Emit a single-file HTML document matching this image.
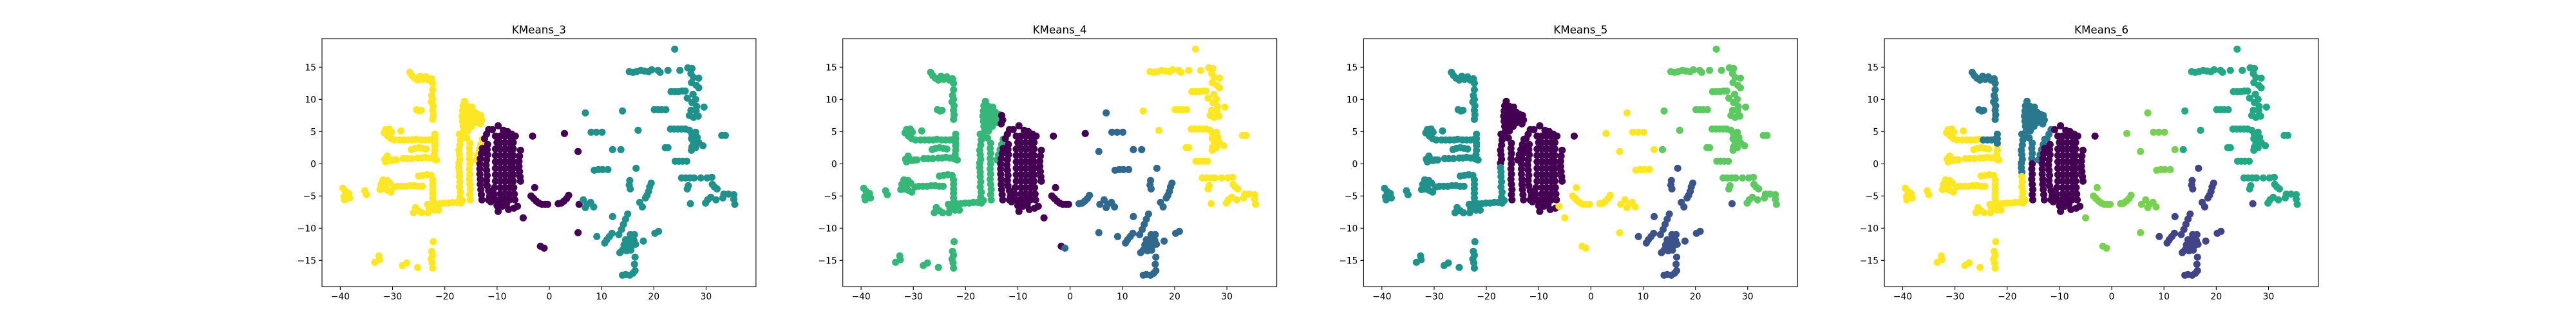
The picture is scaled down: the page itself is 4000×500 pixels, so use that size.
<!DOCTYPE html>
<html><head><meta charset="utf-8"><style>
html,body{margin:0;padding:0;background:#fff;}
svg{display:block;font-family:"DejaVu Sans","Liberation Sans",sans-serif;}
</style></head>
<body>
<svg id="fig" width="4000" height="500" viewBox="0 0 4000 500" xmlns="http://www.w3.org/2000/svg">
<rect width="4000" height="500" fill="#fff"/>
</svg>
<script>
// ---- data ----
const groupPoints = [
 [[-26.7,14.2],[-26.3,13.7],[-25.8,13.3],[-25.2,13.0],[-24.7,13.6],[-24.2,13.1],[-23.6,13.5],[-23.1,13.0],[-22.5,13.2],[-22.3,12.5],[-22.3,11.5],[-22.5,10.6],[-22.3,10.0],[-22.6,9.6],[-22.2,9.0],[-22.3,8.3],[-22.2,7.6],[-22.3,6.9],[-25.4,8.4],[-24.9,8.2],[-24.5,8.3]],
 [[-31.3,5.3],[-30.6,5.4],[-31.6,4.8],[-30.2,4.9],[-30.9,4.3],[-30.3,3.9],[-29.6,3.7],[-28.4,5.1],[-28.6,3.7],[-27.8,3.7],[-27.0,3.7],[-26.2,3.7],[-25.5,3.8],[-26.4,2.2],[-25.7,2.4],[-25.0,2.5],[-24.3,2.4],[-23.6,2.3],[-21.9,2.8],[-21.9,2.1],[-22.0,1.4],[-21.9,0.7],[-31.3,0.3],[-30.8,0.8],[-30.3,0.5],[-31.0,1.2],[-29.8,0.6],[-29.3,0.6],[-28.0,0.8],[-27.2,0.8],[-26.3,0.8],[-25.2,0.9],[-24.5,0.9],[-23.8,1.0],[-23.0,0.9],[-22.2,0.8],[-21.6,0.6],[-31.5,0.7]],
 [[-24.6,3.7],[-23.8,3.7],[-23.0,3.7],[-22.3,3.8],[-21.9,4.6],[-21.9,3.9],[-21.9,3.2]],
 [[-31.8,-2.5],[-31.0,-2.6],[-32.2,-3.2],[-31.4,-3.4],[-30.5,-3.0],[-31.8,-3.9],[-31.0,-4.1],[-30.3,-4.4],[-32.4,-4.0],[-29.7,-3.6],[-29.0,-3.5],[-28.2,-3.5],[-27.4,-3.5],[-26.6,-3.4],[-25.8,-3.4],[-25.0,-3.5],[-24.3,-3.5],[-25.0,-1.9],[-24.2,-1.8],[-23.4,-1.7],[-22.6,-1.8],[-22.3,-2.5],[-22.3,-3.2],[-22.3,-3.9],[-22.3,-4.6],[-22.3,-5.3],[-22.3,-6.0],[-23.3,-6.3],[-22.5,-6.4],[-21.7,-6.2],[-20.9,-6.2],[-20.1,-6.1],[-19.3,-6.1],[-18.5,-6.0],[-17.7,-6.0],[-17.0,-6.1],[-16.6,-5.7],[-26.0,-7.6],[-25.6,-6.8],[-25.0,-7.3],[-24.4,-7.6],[-23.2,-7.6],[-23.0,-6.9],[-22.0,-7.2],[-21.2,-7.2],[-39.5,-3.8],[-39.0,-4.3],[-38.4,-4.6],[-39.3,-5.1],[-38.2,-5.3],[-39.2,-5.6],[-38.6,-5.2],[-35.3,-4.2],[-35.0,-4.8],[-22.2,-12.1],[-22.5,-13.6],[-22.3,-14.2],[-22.6,-14.8],[-22.4,-15.4],[-22.3,-16.2],[-32.6,-14.3],[-32.5,-14.9],[-33.4,-15.3],[-28.1,-15.8],[-27.3,-15.4],[-25.2,-16.1]],
 [[-17.2,4.6],[-17.0,3.7],[-17.1,2.9],[-17.3,2.1],[-17.2,1.4],[-17.1,0.7],[-17.3,0.1]],
 [[-17.3,-0.6],[-17.2,-1.3]],
 [[-17.2,-2.0],[-17.1,-2.8],[-17.2,-3.6],[-17.0,-4.4],[-17.1,-5.2],[-16.9,-5.9]],
 [[-16.2,9.7],[-16.5,9.0],[-15.6,8.9],[-14.8,8.8],[-16.6,8.2],[-15.8,8.1],[-15.0,8.1],[-14.3,8.0],[-13.7,7.7],[-16.7,7.4],[-16.0,7.3],[-15.2,7.3],[-14.4,7.3],[-13.6,7.0],[-16.6,6.6],[-15.8,6.5],[-15.0,6.5],[-14.2,6.4],[-16.5,5.8],[-15.7,5.7],[-14.9,5.8],[-16.4,5.0],[-15.6,5.1],[-16.6,4.3],[-15.8,4.0]],
 [[-13.1,7.5],[-12.9,6.8],[-13.2,6.2]],
 [[-15.2,3.2],[-15.3,2.4],[-15.2,1.6],[-15.3,0.8],[-12.8,3.8],[-13.1,3.0],[-13.4,2.2],[-13.7,1.4],[-14.0,0.6]],
 [[-15.2,0.0],[-15.3,-0.8],[-15.2,-1.6],[-15.3,-2.4],[-15.2,-3.2],[-15.1,-4.0],[-15.2,-4.8],[-15.1,-5.6]],
 [[-11.6,5.3],[-12.0,4.6],[-12.4,3.9]],
 [[-12.8,2.4],[-13.0,1.6],[-13.2,0.8],[-13.3,0.0],[-13.3,-0.8],[-13.3,-1.6],[-13.2,-2.4],[-13.2,-3.2],[-13.1,-4.0],[-13.0,-4.8],[-12.9,-5.6],
  [-11.8,3.0],[-11.9,2.2],[-11.8,1.4],[-12.0,0.6],[-12.1,-0.2],[-12.0,-1.0],[-11.9,-1.8],[-12.0,-2.6],[-11.9,-3.4],[-11.6,-4.2],[-11.4,-5.0],[-11.6,-5.6],
  [-10.3,4.3],[-9.4,4.3],[-8.5,4.3],[-7.6,4.3],[-6.9,4.3],
  [-10.0,3.3],[-9.4,3.3],[-8.5,3.3],[-7.6,3.3],[-6.9,3.3],
  [-10.3,2.3],[-9.4,2.3],[-8.5,2.3],[-7.6,2.3],[-6.9,2.3],
  [-10.3,1.3],[-9.4,1.3],[-8.5,1.3],[-7.6,1.3],[-6.9,1.3],
  [-10.3,0.3],[-9.4,0.3],[-8.5,0.3],[-7.6,0.3],[-6.9,0.3],
  [-10.3,-0.7],[-9.4,-0.7],[-8.5,-0.7],[-7.6,-0.7],[-6.9,-0.7],
  [-10.3,-1.7],[-9.4,-1.7],[-8.5,-1.7],[-7.6,-1.7],[-6.9,-1.7],
  [-10.3,-2.7],[-9.4,-2.7],[-8.5,-2.7],[-7.6,-2.7],[-6.9,-2.7],
  [-10.5,-3.7],[-9.4,-3.7],[-8.5,-3.7],[-7.6,-3.7],[-6.8,-3.7],
  [-10.6,-4.7],[-9.4,-4.7],[-8.5,-4.7],[-7.6,-4.7],[-6.7,-4.7],
  [-10.3,-5.6],[-9.4,-5.6],[-8.5,-5.6],[-7.6,-5.6],[-6.6,-5.6],
  [-10.9,5.3],[-9.8,5.9],[-8.8,5.2],[-8.0,5.0],[-7.2,4.6],[-6.5,4.3],[-10.0,-6.5],[-9.8,-7.4],[-9.0,-6.6],[-8.2,-6.3],[-7.8,-7.1],[-6.8,-6.9],[-11.2,-5.9],
  [-5.5,2.1],[-5.7,1.2],[-5.8,0.4],[-5.8,-0.4],[-5.7,-1.2],[-5.6,-2.0],[-5.5,-2.7],[-3.2,4.3]],
 [[-6.1,-6.6]],
 [[-5.0,-8.4],[-2.8,-3.7],[-3.5,-5.0],[-3.0,-5.4],[-2.5,-5.8],[-2.0,-6.1],[-1.4,-6.3],[-0.8,-6.3],[-0.3,-6.3],[2.9,4.7],[-1.7,-12.8]],
 [[1.7,-6.2],[2.3,-6.1],[2.8,-5.8],[3.3,-5.4],[3.7,-4.9],[5.5,1.9],[5.5,-10.7],[5.7,-6.3],[-1.0,-13.1]],
 [[6.9,7.9],[8.0,4.9],[9.0,4.9],[10.1,4.9],[12.1,2.2],[8.6,-1.0],[9.4,-0.9],[10.2,-0.9],[11.2,-0.9],[6.5,-5.6],[7.2,-6.3],[7.9,-6.0],[6.9,-6.8],[8.5,-6.7]],
 [[13.7,2.2]],
 [[14.0,8.2],[17.0,5.2],[24.0,17.8],[15.3,14.3],[16.0,14.2],[16.7,14.3],[17.5,14.5],[18.2,14.4],[19.0,14.3],[19.6,14.6],[20.8,14.5],[21.2,14.2],[22.7,14.5],[25.0,14.5],[26.5,14.9],[27.3,14.8],[27.1,14.0],[27.6,13.4],[28.6,13.3],[27.2,12.6],[28.1,12.2],[28.6,11.8],[23.3,11.2],[24.0,11.2],[24.7,11.2],[25.4,11.3],[26.0,11.3],[27.5,10.8],[26.4,10.2],[28.0,10.0],[27.3,9.5],[28.2,8.9],[29.6,8.8],[27.1,8.3],[28.1,8.2],[26.8,7.5],[27.6,7.2],[28.5,7.4],[20.1,8.4],[20.8,8.4],[21.5,8.4],[22.3,8.4],[23.2,5.4],[23.9,5.4],[24.6,5.4],[25.3,5.4],[26.0,5.4],[26.8,5.2],[27.3,4.6],[28.0,4.9],[27.2,3.9],[28.3,4.1],[27.6,3.3],[28.6,3.3],[27.3,2.6],[28.0,2.5],[27.2,2.1],[29.4,2.8],[33.0,4.4],[33.7,4.4],[22.2,2.5],[22.7,2.5],[24.1,0.4],[24.8,0.4],[25.5,0.4],[26.3,0.4],[25.3,-2.2],[26.1,-2.2],[26.9,-2.2],[27.7,-2.2],[29.0,-2.2],[30.2,-2.2],[31.1,-2.1],[26.6,-3.4],[26.4,-3.9],[31.2,-3.2],[31.6,-3.6],[32.1,-3.9],[29.9,-6.1],[30.3,-5.6],[30.9,-5.2],[31.9,-5.6],[33.2,-5.3],[33.4,-4.7],[34.3,-4.7],[35.3,-4.8],[35.3,-5.5],[35.5,-6.3]],
 [[27.0,-6.2]],
 [[16.6,-0.7],[15.4,-2.6],[15.3,-3.3],[15.5,-3.9],[19.5,-3.0],[19.2,-3.6],[19.0,-4.3],[18.7,-4.9],[18.4,-5.3],[17.3,-6.0],[17.8,-6.7],[15.0,-7.8],[14.6,-8.6],[14.2,-9.4],[13.8,-10.2],[13.3,-11.0],[12.1,-8.2],[9.1,-11.3],[10.6,-12.3],[11.0,-11.8],[11.5,-11.3],[12.0,-10.8],[15.5,-11.0],[16.3,-11.0],[14.6,-11.8],[15.4,-11.9],[16.2,-11.9],[14.3,-12.6],[15.0,-12.7],[15.8,-12.7],[16.5,-12.5],[14.0,-13.4],[14.8,-13.5],[15.6,-13.4],[13.5,-13.8],[16.4,-14.5],[16.3,-15.6],[14.0,-17.3],[14.6,-17.2],[15.4,-17.3],[16.0,-17.0],[16.4,-16.6],[18.0,-12.0],[20.2,-10.8],[20.9,-10.5]]
];
const labelsK3 = [2,2,2,2,2,2,2,2,2,2,2,0,0,0,0,0,1,1,1,1,1];
const labelsK4 = [2,2,2,2,2,2,2,2,0,2,2,0,0,0,0,1,1,1,3,3,1];
const labelsK5 = [2,2,2,2,0,2,2,0,0,0,0,0,0,4,4,4,4,3,3,1,1];
const labelsK6 = [2,5,2,5,2,2,5,2,2,2,0,2,0,0,4,4,4,3,3,1,1];
const titles = ["KMeans_3","KMeans_4","KMeans_5","KMeans_6"];
const xTicks = [-40,-30,-20,-10,0,10,20,30];
const yTicks = [-15,-10,-5,0,5,10,15];
const palettes = [
 ["#440154","#21918c","#fde725"],
 ["#440154","#31688e","#35b779","#fde725"],
 ["#440154","#3b528b","#21918c","#5ec962","#fde725"],
 ["#440154","#414487","#2a788e","#22a884","#7ad151","#fde725"]
];
const allLabels = [labelsK3,labelsK4,labelsK5,labelsK6];

// ---- layout ----
const NS="http://www.w3.org/2000/svg";
const svg=document.getElementById('fig');
const AX_W=673.9, AX_GAP=134.8, AX_L0=500, AX_T=60, AX_B=445;
const XMIN=-43.5, XMAX=39.55, YMIN=-19.07, YMAX=19.43;
function mk(tag,attrs,parent){const e=document.createElementNS(NS,tag);for(const k in attrs)e.setAttribute(k,attrs[k]);(parent||svg).appendChild(e);return e;}
function fmt(v){return v<0?"\u2212"+Math.abs(v):String(v);}

for(let a=0;a<4;a++){
 const L=AX_L0+a*(AX_W+AX_GAP), R=L+AX_W;
 const sx=v=>L+(v-XMIN)/(XMAX-XMIN)*AX_W;
 const sy=v=>AX_B-(v-YMIN)/(YMAX-YMIN)*(AX_B-AX_T);
 const g=mk('g',{});
 
 
 const pg=mk('g',{},g);
 
 
 const labs=allLabels[a], pal=palettes[a];
 groupPoints.forEach((pts,gi)=>{
  pts.forEach(p=>{
   const c=mk('circle',{cx:sx(p[0]).toFixed(1),cy:sy(p[1]).toFixed(1),r:5.6,fill:pal[labs[gi]]},pg);
   
   
  });
 });
 const fr=mk('rect',{x:L,y:AX_T,width:AX_W,height:AX_B-AX_T,fill:'none',stroke:'#000','stroke-width':1.1},g);
 
 
 xTicks.forEach(t=>{
  const x=sx(t);
  const tk=mk('line',{x1:x,y1:AX_B,x2:x,y2:AX_B+5,stroke:'#000','stroke-width':1.1},g);
  
  
  const tx=mk('text',{x:x,y:AX_B+20,'font-size':13.9,'text-anchor':'middle',fill:'#000'},g);
  tx.textContent=fmt(t);
  
  
 });
 yTicks.forEach(t=>{
  const y=sy(t);
  const tk=mk('line',{x1:L-5,y1:y,x2:L,y2:y,stroke:'#000','stroke-width':1.1},g);
  
  
  const tx=mk('text',{x:L-9,y:y+5,'font-size':13.9,'text-anchor':'end',fill:'#000'},g);
  tx.textContent=fmt(t);
  
  
 });
 const ti=mk('text',{x:(L+R)/2,y:52,'font-size':16.7,'text-anchor':'middle',fill:'#000'},g);
 ti.textContent=titles[a];
 
 
}
</script>
</body></html>
